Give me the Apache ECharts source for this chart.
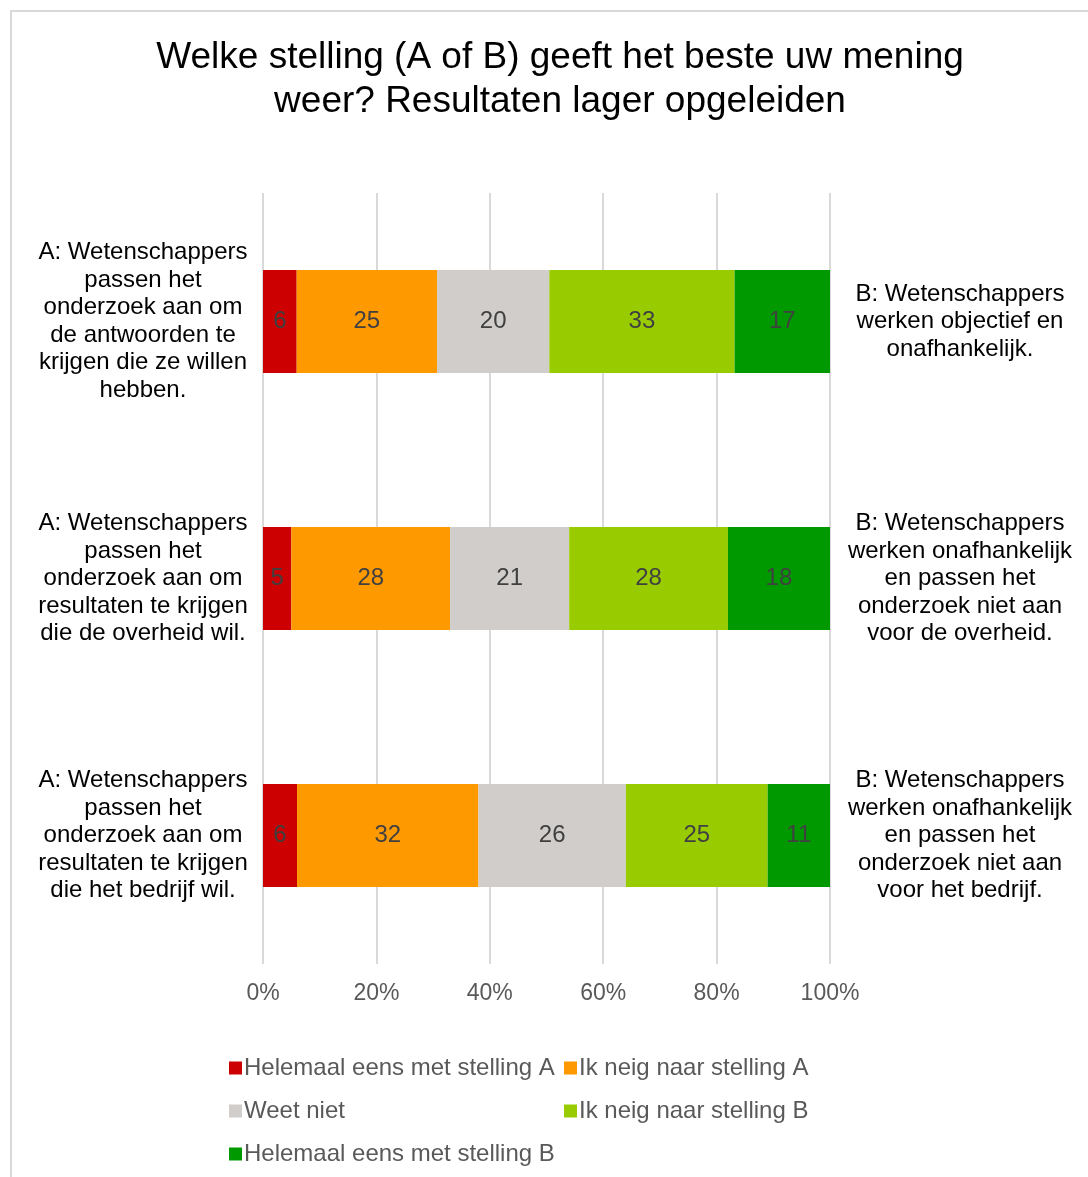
<!DOCTYPE html>
<html>
<head>
<meta charset="utf-8">
<script src="https://cdn.jsdelivr.net/npm/echarts@6/dist/echarts.min.js"></script>
<style>
  html, body { margin: 0; padding: 0; background: #fff; }
  #main { width: 1088px; height: 1177px; }
</style>
</head>
<body>
<div id="main"></div>
<script>
// stellingen A (links) en B (rechts)
var statementsA = [
  'A: Wetenschappers\npassen het\nonderzoek aan om\nde antwoorden te\nkrijgen die ze willen\nhebben.',
  'A: Wetenschappers\npassen het\nonderzoek aan om\nresultaten te krijgen\ndie de overheid wil.',
  'A: Wetenschappers\npassen het\nonderzoek aan om\nresultaten te krijgen\ndie het bedrijf wil.'
]
var statementsB = [
  'B: Wetenschappers\nwerken objectief en\nonafhankelijk.',
  'B: Wetenschappers\nwerken onafhankelijk\nen passen het\nonderzoek niet aan\nvoor de overheid.',
  'B: Wetenschappers\nwerken onafhankelijk\nen passen het\nonderzoek niet aan\nvoor het bedrijf.'
]
var seriesNames = [
  'Helemaal eens met stelling A',
  'Ik neig naar stelling A',
  'Weet niet',
  'Ik neig naar stelling B',
  'Helemaal eens met stelling B'
]
var helemaalA = [6, 5, 6]
var neigA = [25, 28, 32]
var weetNiet = [20, 21, 26]
var neigB = [33, 28, 25]
var helemaalB = [17, 18, 11]
var xTicks = [0, 20, 40, 60, 80, 100]

var colors = ['#cc0000', '#ff9900', '#d0cdca', '#99cc00', '#009900']
var rows = [helemaalA, neigA, weetNiet, neigB, helemaalB]
const fontFam = '"Liberation Sans", Arial, sans-serif'

// totalen per stelling (rij 1 telt op tot 101, Excel schaalt naar 100%)
var totals = statementsA.map((s, i) => rows.reduce((acc, r) => acc + r[i], 0))

var series = rows.map((vals, k) => {
  return {
    name: seriesNames[k],
    type: 'bar',
    stack: 'total',
    barWidth: '40%',
    itemStyle: { color: colors[k] },
    label: {
      show: true,
      position: 'inside',
      color: '#404040',
      fontSize: 24,
      fontFamily: fontFam,
      formatter: (p) => vals[p.dataIndex]
    },
    data: vals.map((v, i) => v / totals[i] * 100)
  }
})

var legendText = { color: '#595959', fontSize: 24, fontFamily: fontFam, padding: [0, 0, 0, -3] }

var myChart = echarts.init(document.getElementById('main'))
var option = {
  animation: false,
  backgroundColor: '#fff',
  textStyle: { fontFamily: fontFam },
  title: {
    text: 'Welke stelling (A of B) geeft het beste uw mening\nweer? Resultaten lager opgeleiden',
    left: 555,
    textAlign: 'center',
    top: 31,
    textStyle: {
      color: '#000',
      fontSize: 37,
      fontWeight: 'normal',
      fontFamily: fontFam,
      lineHeight: 44
    }
  },
  graphic: [{
    type: 'rect',
    shape: { x: 11, y: 11, width: 1100, height: 1200 },
    style: { fill: 'none', stroke: '#d9d9d9', lineWidth: 2 },
    silent: true
  }],
  legend: [
    {
      data: [seriesNames[0], seriesNames[2], seriesNames[4]],
      orient: 'vertical',
      left: 224,
      top: 1051,
      itemWidth: 13,
      itemHeight: 13,
      itemGap: 19,
      icon: 'rect',
      textStyle: legendText,
      selectedMode: false
    },
    {
      data: [seriesNames[1], seriesNames[3]],
      orient: 'vertical',
      left: 559,
      top: 1051,
      itemWidth: 13,
      itemHeight: 13,
      itemGap: 19,
      icon: 'rect',
      textStyle: legendText,
      selectedMode: false
    }
  ],
  grid: {
    left: 263,
    right: 258,
    top: 193,
    bottom: 213,
    containLabel: false
  },
  xAxis: {
    type: 'value',
    min: xTicks[0],
    max: xTicks[xTicks.length - 1],
    interval: 20,
    axisLine: { show: false },
    axisTick: { show: false },
    axisLabel: {
      color: '#595959',
      fontSize: 23,
      fontFamily: fontFam,
      margin: 18,
      formatter: '{value}%'
    },
    splitLine: {
      show: true,
      lineStyle: { color: '#d9d9d9', width: 2 }
    }
  },
  yAxis: [
    {
      type: 'category',
      inverse: true,
      position: 'left',
      data: statementsA,
      axisLine: { show: false },
      axisTick: { show: false },
      axisLabel: {
        color: '#000',
        fontSize: 24,
        fontFamily: fontFam,
        lineHeight: 27.5,
        align: 'center',
        margin: 120
      }
    },
    {
      type: 'category',
      inverse: true,
      position: 'right',
      data: statementsB,
      axisLine: { show: false },
      axisTick: { show: false },
      axisLabel: {
        color: '#000',
        fontSize: 24,
        fontFamily: fontFam,
        lineHeight: 27.5,
        align: 'center',
        margin: 130
      }
    }
  ],
  series: series
}
myChart.setOption(option)
</script>
</body>
</html>
